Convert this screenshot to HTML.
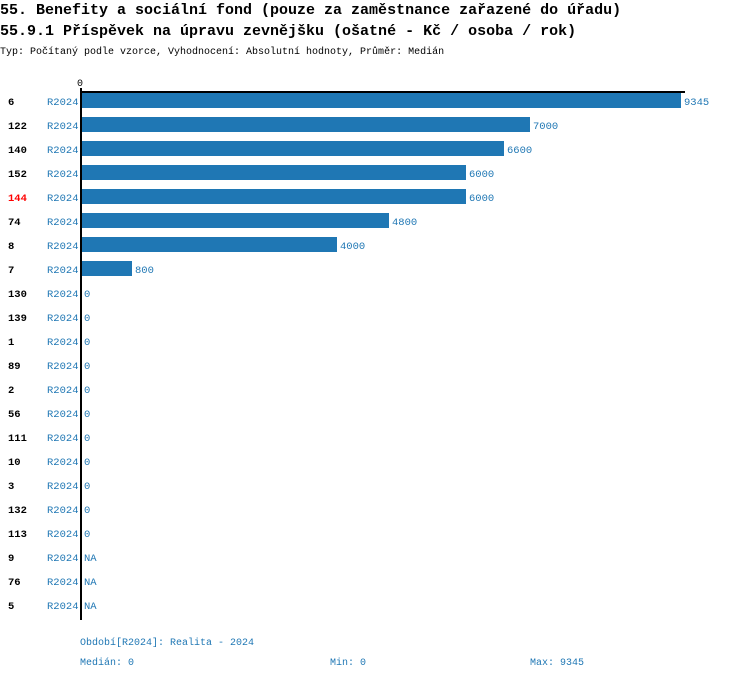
<!DOCTYPE html>
<html><head><meta charset="utf-8"><style>
body{margin:0;background:#fff;}
svg{display:block;font-family:"Liberation Mono",monospace;}
</style></head><body>
<svg width="750" height="680" xmlns="http://www.w3.org/2000/svg">
<text x="0" y="14" font-size="15" font-weight="bold" fill="#000">55. Benefity a sociální fond (pouze za zaměstnance zařazené do úřadu)</text>
<text x="0" y="35" font-size="15" font-weight="bold" fill="#000">55.9.1 Příspěvek na úpravu zevnějšku (ošatné - Kč / osoba / rok)</text>
<text x="0" y="54" font-size="10" fill="#000">Typ: Počítaný podle vzorce, Vyhodnocení: Absolutní hodnoty, Průměr: Medián</text>
<text x="77" y="86" font-size="10" fill="#000">0</text>
<rect x="80" y="88" width="2" height="532" fill="#000"/>
<rect x="80" y="91" width="605" height="2" fill="#000"/>
<g font-size="10.5">
<text x="8" y="105" font-weight="bold">6</text><text x="47" y="105" fill="#1f77b4">R2024</text><rect x="82" y="93" width="599" height="15" fill="#1f77b4"/><text x="684" y="105" fill="#1f77b4">9345</text>
<text x="8" y="129" font-weight="bold">122</text><text x="47" y="129" fill="#1f77b4">R2024</text><rect x="82" y="117" width="448" height="15" fill="#1f77b4"/><text x="533" y="129" fill="#1f77b4">7000</text>
<text x="8" y="153" font-weight="bold">140</text><text x="47" y="153" fill="#1f77b4">R2024</text><rect x="82" y="141" width="422" height="15" fill="#1f77b4"/><text x="507" y="153" fill="#1f77b4">6600</text>
<text x="8" y="177" font-weight="bold">152</text><text x="47" y="177" fill="#1f77b4">R2024</text><rect x="82" y="165" width="384" height="15" fill="#1f77b4"/><text x="469" y="177" fill="#1f77b4">6000</text>
<text x="8" y="201" font-weight="bold" fill="#f00">144</text><text x="47" y="201" fill="#1f77b4">R2024</text><rect x="82" y="189" width="384" height="15" fill="#1f77b4"/><text x="469" y="201" fill="#1f77b4">6000</text>
<text x="8" y="225" font-weight="bold">74</text><text x="47" y="225" fill="#1f77b4">R2024</text><rect x="82" y="213" width="307" height="15" fill="#1f77b4"/><text x="392" y="225" fill="#1f77b4">4800</text>
<text x="8" y="249" font-weight="bold">8</text><text x="47" y="249" fill="#1f77b4">R2024</text><rect x="82" y="237" width="255" height="15" fill="#1f77b4"/><text x="340" y="249" fill="#1f77b4">4000</text>
<text x="8" y="273" font-weight="bold">7</text><text x="47" y="273" fill="#1f77b4">R2024</text><rect x="82" y="261" width="50" height="15" fill="#1f77b4"/><text x="135" y="273" fill="#1f77b4">800</text>
<text x="8" y="297" font-weight="bold">130</text><text x="47" y="297" fill="#1f77b4">R2024</text><text x="84" y="297" fill="#1f77b4">0</text>
<text x="8" y="321" font-weight="bold">139</text><text x="47" y="321" fill="#1f77b4">R2024</text><text x="84" y="321" fill="#1f77b4">0</text>
<text x="8" y="345" font-weight="bold">1</text><text x="47" y="345" fill="#1f77b4">R2024</text><text x="84" y="345" fill="#1f77b4">0</text>
<text x="8" y="369" font-weight="bold">89</text><text x="47" y="369" fill="#1f77b4">R2024</text><text x="84" y="369" fill="#1f77b4">0</text>
<text x="8" y="393" font-weight="bold">2</text><text x="47" y="393" fill="#1f77b4">R2024</text><text x="84" y="393" fill="#1f77b4">0</text>
<text x="8" y="417" font-weight="bold">56</text><text x="47" y="417" fill="#1f77b4">R2024</text><text x="84" y="417" fill="#1f77b4">0</text>
<text x="8" y="441" font-weight="bold">111</text><text x="47" y="441" fill="#1f77b4">R2024</text><text x="84" y="441" fill="#1f77b4">0</text>
<text x="8" y="465" font-weight="bold">10</text><text x="47" y="465" fill="#1f77b4">R2024</text><text x="84" y="465" fill="#1f77b4">0</text>
<text x="8" y="489" font-weight="bold">3</text><text x="47" y="489" fill="#1f77b4">R2024</text><text x="84" y="489" fill="#1f77b4">0</text>
<text x="8" y="513" font-weight="bold">132</text><text x="47" y="513" fill="#1f77b4">R2024</text><text x="84" y="513" fill="#1f77b4">0</text>
<text x="8" y="537" font-weight="bold">113</text><text x="47" y="537" fill="#1f77b4">R2024</text><text x="84" y="537" fill="#1f77b4">0</text>
<text x="8" y="561" font-weight="bold">9</text><text x="47" y="561" fill="#1f77b4">R2024</text><text x="84" y="561" fill="#1f77b4">NA</text>
<text x="8" y="585" font-weight="bold">76</text><text x="47" y="585" fill="#1f77b4">R2024</text><text x="84" y="585" fill="#1f77b4">NA</text>
<text x="8" y="609" font-weight="bold">5</text><text x="47" y="609" fill="#1f77b4">R2024</text><text x="84" y="609" fill="#1f77b4">NA</text>
</g>
<g font-size="10" fill="#1f77b4">
<text x="80" y="645">Období[R2024]: Realita - 2024</text>
<text x="80" y="665">Medián: 0</text>
<text x="330" y="665">Min: 0</text>
<text x="530" y="665">Max: 9345</text>
</g>
</svg>
</body></html>
